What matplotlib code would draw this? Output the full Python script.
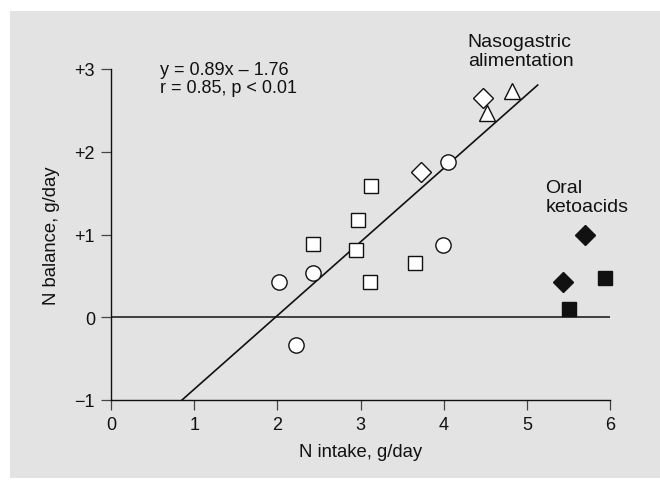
import matplotlib
matplotlib.use('Agg')
import matplotlib.pyplot as plt
from matplotlib.patches import Rectangle

plt.rcParams['font.family'] = ['Liberation Sans', 'DejaVu Sans']

# N intake (g/day) vs N balance (g/day), by group
circle_x = [2.02, 2.23, 2.43, 3.99, 4.05]
circle_y = [0.42, -0.34, 0.54, 0.87, 1.88]
square_x = [2.43, 2.94, 2.97, 3.13, 3.12, 3.65]
square_y = [0.88, 0.81, 1.18, 1.59, 0.42, 0.66]
diamond_x = [3.73, 4.47]
diamond_y = [1.76, 2.65]
triangle_x = [4.52, 4.82]
triangle_y = [2.47, 2.74]
keto_diamond_x = [5.43, 5.70]
keto_diamond_y = [0.42, 1.00]
keto_square_x = [5.51, 5.94]
keto_square_y = [0.10, 0.48]

# regression fit y = 0.89x - 1.76
slope = 0.89
intercept = -1.76
fit_x = [(-1 - intercept) / slope, 5.13]

x_ticks = [0, 1, 2, 3, 4, 5, 6]
y_ticks = [-1, 0, 1, 2, 3]
y_ticklabels = ['\u22121', '0', '+1', '+2', '+3']

bg = '#e3e3e3'
ink = '#111111'

fig = plt.figure(figsize=(6.6, 4.81), dpi=100, facecolor='white')
fig.patches.append(Rectangle((10 / 660, 2 / 481), 650 / 660, 467 / 481,
                             transform=fig.transFigure, facecolor=bg,
                             edgecolor='none', zorder=-10))

ax = fig.add_axes([111 / 660, 1 - 401 / 481, 499 / 660, 331 / 481])
ax.set_facecolor('none')
ax.set_xlim(0, 6)
ax.set_ylim(-1, 3)

for s in ['top', 'right']:
    ax.spines[s].set_visible(False)
for s in ['left', 'bottom']:
    ax.spines[s].set_linewidth(1.0)
    ax.spines[s].set_color(ink)

ax.set_xticks(x_ticks)
ax.set_yticks(y_ticks)
ax.set_yticklabels(y_ticklabels)
ax.tick_params(direction='out', length=7.5, width=0.9, color='#444444',
               labelsize=13, labelcolor=ink, pad=4)

# zero line and regression line
ax.plot([0, 6], [0, 0], color=ink, lw=1.1, zorder=2)
ax.plot(fit_x, [slope * v + intercept for v in fit_x], color=ink, lw=1.2, zorder=2)

mk = dict(linestyle='none', markeredgecolor=ink, markeredgewidth=1.0,
          clip_on=False, zorder=3)
ax.plot(circle_x, circle_y, marker='o', markersize=11, markerfacecolor='white', **mk)
ax.plot(square_x, square_y, marker='s', markersize=10, markerfacecolor='white', **mk)
ax.plot(diamond_x, diamond_y, marker='D', markersize=10, markerfacecolor='white', **mk)
ax.plot(triangle_x, triangle_y, marker='^', markersize=11, markerfacecolor='white', **mk)
ax.plot(keto_diamond_x, keto_diamond_y, marker='D', markersize=10, markerfacecolor=ink, **mk)
ax.plot(keto_square_x, keto_square_y, marker='s', markersize=10, markerfacecolor=ink, **mk)

ax.text(0.59, 2.885, 'y = 0.89x \u2013 1.76\nr = 0.85, p < 0.01', fontsize=13,
        color=ink, va='center', ha='left', linespacing=1.12)
ax.text(4.29, 3.22, 'Nasogastric\nalimentation', fontsize=14, color=ink,
        va='center', ha='left', linespacing=1.12)
ax.text(5.22, 1.45, 'Oral\nketoacids', fontsize=14, color=ink,
        va='center', ha='left', linespacing=1.12)

ax.set_xlabel('N intake, g/day', fontsize=13.3, color=ink, va='center')
ax.set_ylabel('N balance, g/day', fontsize=13.3, color=ink, va='center')
ax.xaxis.set_label_coords(0.5, -52 / 331)
ax.yaxis.set_label_coords(-59 / 499, 0.5)

fig.savefig('out.png', dpi=100, facecolor='white')
